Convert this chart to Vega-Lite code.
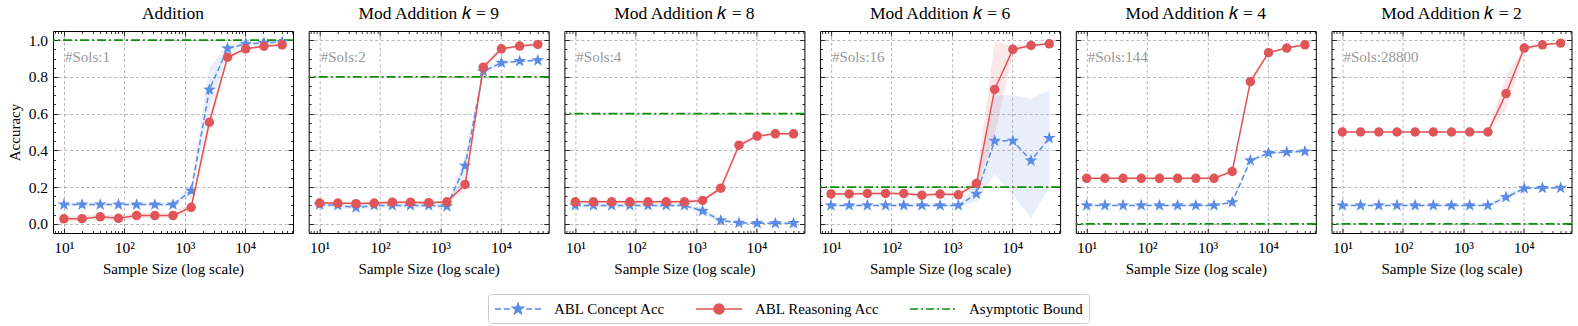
{
"$schema": "https://vega.github.io/schema/vega-lite/v6.json",
"padding": {"left": 6, "top": 4, "right": 5, "bottom": 5},
"spacing": 15.7,
"bounds": "flush",
"datasets": {"d": [
{"p":"a","s":"c","x":10,"y":0.105,"lo":0.095,"hi":0.115},
{"p":"a","s":"c","x":20,"y":0.105,"lo":0.095,"hi":0.115},
{"p":"a","s":"c","x":40,"y":0.105,"lo":0.095,"hi":0.115},
{"p":"a","s":"c","x":80,"y":0.105,"lo":0.095,"hi":0.115},
{"p":"a","s":"c","x":160,"y":0.105,"lo":0.095,"hi":0.115},
{"p":"a","s":"c","x":320,"y":0.105,"lo":0.095,"hi":0.115},
{"p":"a","s":"c","x":640,"y":0.105,"lo":0.095,"hi":0.115},
{"p":"a","s":"c","x":1280,"y":0.18,"lo":0.15,"hi":0.21},
{"p":"a","s":"c","x":2560,"y":0.73,"lo":0.62,"hi":0.85},
{"p":"a","s":"c","x":5120,"y":0.955,"lo":0.93,"hi":0.975},
{"p":"a","s":"c","x":10240,"y":0.98,"lo":0.972,"hi":0.988},
{"p":"a","s":"c","x":20480,"y":0.985,"lo":0.978,"hi":0.992},
{"p":"a","s":"c","x":40960,"y":0.99,"lo":0.984,"hi":0.996},
{"p":"a","s":"r","x":10,"y":0.027,"lo":0.012,"hi":0.042},
{"p":"a","s":"r","x":20,"y":0.028,"lo":0.013,"hi":0.043},
{"p":"a","s":"r","x":40,"y":0.038,"lo":0.023,"hi":0.053},
{"p":"a","s":"r","x":80,"y":0.03,"lo":0.015,"hi":0.045},
{"p":"a","s":"r","x":160,"y":0.045,"lo":0.03,"hi":0.06},
{"p":"a","s":"r","x":320,"y":0.045,"lo":0.03,"hi":0.06},
{"p":"a","s":"r","x":640,"y":0.045,"lo":0.03,"hi":0.06},
{"p":"a","s":"r","x":1280,"y":0.09,"lo":0.07,"hi":0.11},
{"p":"a","s":"r","x":2560,"y":0.553,"lo":0.5,"hi":0.6},
{"p":"a","s":"r","x":5120,"y":0.907,"lo":0.89,"hi":0.925},
{"p":"a","s":"r","x":10240,"y":0.953,"lo":0.945,"hi":0.961},
{"p":"a","s":"r","x":20480,"y":0.967,"lo":0.96,"hi":0.974},
{"p":"a","s":"r","x":40960,"y":0.975,"lo":0.969,"hi":0.981},
{"p":"a","s":"b","y":1.0},
{"p":"a","s":"sols","x":10.4,"y":0.91,"label":"#Sols:1"},

{"p":"k9","s":"c","x":10,"y":0.104,"lo":0.092,"hi":0.116},
{"p":"k9","s":"c","x":20,"y":0.1,"lo":0.088,"hi":0.112},
{"p":"k9","s":"c","x":40,"y":0.088,"lo":0.076,"hi":0.1},
{"p":"k9","s":"c","x":80,"y":0.1,"lo":0.088,"hi":0.112},
{"p":"k9","s":"c","x":160,"y":0.1,"lo":0.088,"hi":0.112},
{"p":"k9","s":"c","x":320,"y":0.1,"lo":0.088,"hi":0.112},
{"p":"k9","s":"c","x":640,"y":0.1,"lo":0.088,"hi":0.112},
{"p":"k9","s":"c","x":1280,"y":0.095,"lo":0.083,"hi":0.107},
{"p":"k9","s":"c","x":2560,"y":0.316,"lo":0.26,"hi":0.37},
{"p":"k9","s":"c","x":5120,"y":0.83,"lo":0.81,"hi":0.85},
{"p":"k9","s":"c","x":10240,"y":0.877,"lo":0.869,"hi":0.885},
{"p":"k9","s":"c","x":20480,"y":0.886,"lo":0.878,"hi":0.894},
{"p":"k9","s":"c","x":40960,"y":0.89,"lo":0.882,"hi":0.898},
{"p":"k9","s":"r","x":10,"y":0.113,"lo":0.105,"hi":0.121},
{"p":"k9","s":"r","x":20,"y":0.113,"lo":0.105,"hi":0.121},
{"p":"k9","s":"r","x":40,"y":0.11,"lo":0.102,"hi":0.118},
{"p":"k9","s":"r","x":80,"y":0.113,"lo":0.105,"hi":0.121},
{"p":"k9","s":"r","x":160,"y":0.118,"lo":0.11,"hi":0.126},
{"p":"k9","s":"r","x":320,"y":0.118,"lo":0.11,"hi":0.126},
{"p":"k9","s":"r","x":640,"y":0.115,"lo":0.107,"hi":0.123},
{"p":"k9","s":"r","x":1280,"y":0.12,"lo":0.112,"hi":0.128},
{"p":"k9","s":"r","x":2560,"y":0.214,"lo":0.18,"hi":0.25},
{"p":"k9","s":"r","x":5120,"y":0.853,"lo":0.83,"hi":0.87},
{"p":"k9","s":"r","x":10240,"y":0.953,"lo":0.945,"hi":0.961},
{"p":"k9","s":"r","x":20480,"y":0.968,"lo":0.961,"hi":0.975},
{"p":"k9","s":"r","x":40960,"y":0.977,"lo":0.971,"hi":0.983},
{"p":"k9","s":"b","y":0.8},
{"p":"k9","s":"sols","x":10.4,"y":0.91,"label":"#Sols:2"},

{"p":"k8","s":"c","x":10,"y":0.1,"lo":0.092,"hi":0.108},
{"p":"k8","s":"c","x":20,"y":0.1,"lo":0.092,"hi":0.108},
{"p":"k8","s":"c","x":40,"y":0.1,"lo":0.092,"hi":0.108},
{"p":"k8","s":"c","x":80,"y":0.1,"lo":0.092,"hi":0.108},
{"p":"k8","s":"c","x":160,"y":0.1,"lo":0.092,"hi":0.108},
{"p":"k8","s":"c","x":320,"y":0.1,"lo":0.092,"hi":0.108},
{"p":"k8","s":"c","x":640,"y":0.1,"lo":0.092,"hi":0.108},
{"p":"k8","s":"c","x":1280,"y":0.07,"lo":0.05,"hi":0.09},
{"p":"k8","s":"c","x":2560,"y":0.018,"lo":0.008,"hi":0.03},
{"p":"k8","s":"c","x":5120,"y":0.005,"lo":0.0,"hi":0.01},
{"p":"k8","s":"c","x":10240,"y":0.003,"lo":0.0,"hi":0.006},
{"p":"k8","s":"c","x":20480,"y":0.003,"lo":0.0,"hi":0.006},
{"p":"k8","s":"c","x":40960,"y":0.003,"lo":0.0,"hi":0.006},
{"p":"k8","s":"r","x":10,"y":0.12,"lo":0.11,"hi":0.13},
{"p":"k8","s":"r","x":20,"y":0.12,"lo":0.11,"hi":0.13},
{"p":"k8","s":"r","x":40,"y":0.12,"lo":0.11,"hi":0.13},
{"p":"k8","s":"r","x":80,"y":0.12,"lo":0.11,"hi":0.13},
{"p":"k8","s":"r","x":160,"y":0.12,"lo":0.11,"hi":0.13},
{"p":"k8","s":"r","x":320,"y":0.12,"lo":0.11,"hi":0.13},
{"p":"k8","s":"r","x":640,"y":0.12,"lo":0.11,"hi":0.13},
{"p":"k8","s":"r","x":1280,"y":0.127,"lo":0.117,"hi":0.137},
{"p":"k8","s":"r","x":2560,"y":0.194,"lo":0.18,"hi":0.21},
{"p":"k8","s":"r","x":5120,"y":0.428,"lo":0.41,"hi":0.445},
{"p":"k8","s":"r","x":10240,"y":0.478,"lo":0.468,"hi":0.488},
{"p":"k8","s":"r","x":20480,"y":0.49,"lo":0.482,"hi":0.498},
{"p":"k8","s":"r","x":40960,"y":0.49,"lo":0.482,"hi":0.498},
{"p":"k8","s":"b","y":0.6},
{"p":"k8","s":"sols","x":10.4,"y":0.91,"label":"#Sols:4"},

{"p":"k6","s":"c","x":10,"y":0.1,"lo":0.092,"hi":0.108},
{"p":"k6","s":"c","x":20,"y":0.1,"lo":0.092,"hi":0.108},
{"p":"k6","s":"c","x":40,"y":0.1,"lo":0.092,"hi":0.108},
{"p":"k6","s":"c","x":80,"y":0.1,"lo":0.092,"hi":0.108},
{"p":"k6","s":"c","x":160,"y":0.1,"lo":0.092,"hi":0.108},
{"p":"k6","s":"c","x":320,"y":0.1,"lo":0.092,"hi":0.108},
{"p":"k6","s":"c","x":640,"y":0.1,"lo":0.092,"hi":0.108},
{"p":"k6","s":"c","x":1280,"y":0.1,"lo":0.092,"hi":0.108},
{"p":"k6","s":"c","x":2560,"y":0.163,"lo":0.12,"hi":0.21},
{"p":"k6","s":"c","x":5120,"y":0.452,"lo":0.27,"hi":0.7},
{"p":"k6","s":"c","x":10240,"y":0.452,"lo":0.16,"hi":0.7},
{"p":"k6","s":"c","x":20480,"y":0.344,"lo":0.03,"hi":0.68},
{"p":"k6","s":"c","x":40960,"y":0.467,"lo":0.2,"hi":0.73},
{"p":"k6","s":"r","x":10,"y":0.163,"lo":0.155,"hi":0.171},
{"p":"k6","s":"r","x":20,"y":0.163,"lo":0.155,"hi":0.171},
{"p":"k6","s":"r","x":40,"y":0.165,"lo":0.157,"hi":0.173},
{"p":"k6","s":"r","x":80,"y":0.165,"lo":0.157,"hi":0.173},
{"p":"k6","s":"r","x":160,"y":0.165,"lo":0.157,"hi":0.173},
{"p":"k6","s":"r","x":320,"y":0.156,"lo":0.148,"hi":0.164},
{"p":"k6","s":"r","x":640,"y":0.162,"lo":0.154,"hi":0.17},
{"p":"k6","s":"r","x":1280,"y":0.158,"lo":0.15,"hi":0.166},
{"p":"k6","s":"r","x":2560,"y":0.22,"lo":0.19,"hi":0.25},
{"p":"k6","s":"r","x":5120,"y":0.732,"lo":0.48,"hi":0.99},
{"p":"k6","s":"r","x":10240,"y":0.95,"lo":0.93,"hi":0.97},
{"p":"k6","s":"r","x":20480,"y":0.971,"lo":0.963,"hi":0.979},
{"p":"k6","s":"r","x":40960,"y":0.98,"lo":0.974,"hi":0.986},
{"p":"k6","s":"b","y":0.2},
{"p":"k6","s":"sols","x":10.4,"y":0.91,"label":"#Sols:16"},

{"p":"k4","s":"c","x":10,"y":0.1,"lo":0.094,"hi":0.106},
{"p":"k4","s":"c","x":20,"y":0.1,"lo":0.094,"hi":0.106},
{"p":"k4","s":"c","x":40,"y":0.1,"lo":0.094,"hi":0.106},
{"p":"k4","s":"c","x":80,"y":0.1,"lo":0.094,"hi":0.106},
{"p":"k4","s":"c","x":160,"y":0.1,"lo":0.094,"hi":0.106},
{"p":"k4","s":"c","x":320,"y":0.1,"lo":0.094,"hi":0.106},
{"p":"k4","s":"c","x":640,"y":0.1,"lo":0.094,"hi":0.106},
{"p":"k4","s":"c","x":1280,"y":0.1,"lo":0.094,"hi":0.106},
{"p":"k4","s":"c","x":2560,"y":0.117,"lo":0.109,"hi":0.125},
{"p":"k4","s":"c","x":5120,"y":0.345,"lo":0.33,"hi":0.36},
{"p":"k4","s":"c","x":10240,"y":0.385,"lo":0.378,"hi":0.392},
{"p":"k4","s":"c","x":20480,"y":0.39,"lo":0.384,"hi":0.396},
{"p":"k4","s":"c","x":40960,"y":0.394,"lo":0.388,"hi":0.4},
{"p":"k4","s":"r","x":10,"y":0.248,"lo":0.242,"hi":0.254},
{"p":"k4","s":"r","x":20,"y":0.248,"lo":0.242,"hi":0.254},
{"p":"k4","s":"r","x":40,"y":0.248,"lo":0.242,"hi":0.254},
{"p":"k4","s":"r","x":80,"y":0.248,"lo":0.242,"hi":0.254},
{"p":"k4","s":"r","x":160,"y":0.248,"lo":0.242,"hi":0.254},
{"p":"k4","s":"r","x":320,"y":0.248,"lo":0.242,"hi":0.254},
{"p":"k4","s":"r","x":640,"y":0.248,"lo":0.242,"hi":0.254},
{"p":"k4","s":"r","x":1280,"y":0.248,"lo":0.242,"hi":0.254},
{"p":"k4","s":"r","x":2560,"y":0.285,"lo":0.275,"hi":0.295},
{"p":"k4","s":"r","x":5120,"y":0.774,"lo":0.75,"hi":0.8},
{"p":"k4","s":"r","x":10240,"y":0.932,"lo":0.924,"hi":0.94},
{"p":"k4","s":"r","x":20480,"y":0.957,"lo":0.951,"hi":0.963},
{"p":"k4","s":"r","x":40960,"y":0.975,"lo":0.97,"hi":0.98},
{"p":"k4","s":"b","y":0.0},
{"p":"k4","s":"sols","x":10.4,"y":0.91,"label":"#Sols:144"},

{"p":"k2","s":"c","x":10,"y":0.1,"lo":0.094,"hi":0.106},
{"p":"k2","s":"c","x":20,"y":0.1,"lo":0.094,"hi":0.106},
{"p":"k2","s":"c","x":40,"y":0.1,"lo":0.094,"hi":0.106},
{"p":"k2","s":"c","x":80,"y":0.1,"lo":0.094,"hi":0.106},
{"p":"k2","s":"c","x":160,"y":0.1,"lo":0.094,"hi":0.106},
{"p":"k2","s":"c","x":320,"y":0.1,"lo":0.094,"hi":0.106},
{"p":"k2","s":"c","x":640,"y":0.1,"lo":0.094,"hi":0.106},
{"p":"k2","s":"c","x":1280,"y":0.1,"lo":0.094,"hi":0.106},
{"p":"k2","s":"c","x":2560,"y":0.1,"lo":0.094,"hi":0.106},
{"p":"k2","s":"c","x":5120,"y":0.145,"lo":0.125,"hi":0.165},
{"p":"k2","s":"c","x":10240,"y":0.193,"lo":0.186,"hi":0.2},
{"p":"k2","s":"c","x":20480,"y":0.195,"lo":0.189,"hi":0.201},
{"p":"k2","s":"c","x":40960,"y":0.196,"lo":0.19,"hi":0.202},
{"p":"k2","s":"r","x":10,"y":0.5,"lo":0.494,"hi":0.506},
{"p":"k2","s":"r","x":20,"y":0.5,"lo":0.494,"hi":0.506},
{"p":"k2","s":"r","x":40,"y":0.5,"lo":0.494,"hi":0.506},
{"p":"k2","s":"r","x":80,"y":0.5,"lo":0.494,"hi":0.506},
{"p":"k2","s":"r","x":160,"y":0.5,"lo":0.494,"hi":0.506},
{"p":"k2","s":"r","x":320,"y":0.5,"lo":0.494,"hi":0.506},
{"p":"k2","s":"r","x":640,"y":0.5,"lo":0.494,"hi":0.506},
{"p":"k2","s":"r","x":1280,"y":0.5,"lo":0.494,"hi":0.506},
{"p":"k2","s":"r","x":2560,"y":0.5,"lo":0.494,"hi":0.506},
{"p":"k2","s":"r","x":5120,"y":0.709,"lo":0.62,"hi":0.8},
{"p":"k2","s":"r","x":10240,"y":0.957,"lo":0.94,"hi":0.97},
{"p":"k2","s":"r","x":20480,"y":0.975,"lo":0.969,"hi":0.981},
{"p":"k2","s":"r","x":40960,"y":0.984,"lo":0.979,"hi":0.989},
{"p":"k2","s":"b","y":0.0},
{"p":"k2","s":"sols","x":10.4,"y":0.91,"label":"#Sols:28800"}
]},
"resolve": {"scale": {"color": "shared"}, "legend": {"color": "shared"}},
"hconcat": [
{
 "title": "Addition", "width": 240, "height": 202,
 "data": {"name": "d"},
 "transform": [{"filter": "datum.p === 'a'"}],
 "resolve": {"axis": {"x": "independent", "y": "independent"}},
 "layer": [
  {"transform": [{"filter": "datum.s === 'c'"}], "mark": {"type": "area", "color": "#5a8be5", "opacity": 0.14},
   "encoding": {"x": {"field": "x", "type": "quantitative", "scale": {"type": "log", "domain": [6.6, 62000], "nice": false}, "axis": {"orient": "top", "values": [10, 100, 1000, 10000], "labels": false, "grid": false, "title": null, "tickSize": -5}},
    "y": {"field": "lo", "type": "quantitative", "scale": {"domain": [-0.05, 1.05], "nice": false, "zero": false}, "axis": {"orient": "right", "values": [0, 0.2, 0.4, 0.6, 0.8, 1], "labels": false, "grid": false, "title": null, "tickSize": -5}},
    "y2": {"field": "hi"}}},
  {"transform": [{"filter": "datum.s === 'r'"}], "mark": {"type": "area", "color": "#e05558", "opacity": 0.14},
   "encoding": {"x": {"field": "x", "type": "quantitative", "scale": {"type": "log", "domain": [6.6, 62000], "nice": false}, "axis": {"orient": "bottom", "values": [7,8,9,20,30,40,50,60,70,80,90,200,300,400,500,600,700,800,900,2000,3000,4000,5000,6000,7000,8000,9000,20000,30000,40000,50000,60000], "labels": false, "grid": false, "title": null, "tickSize": -2.5}},
    "y": {"field": "lo", "type": "quantitative", "scale": {"domain": [-0.05, 1.05], "nice": false, "zero": false}, "axis": {"orient": "left", "values": [0.05,0.1,0.15,0.25,0.3,0.35,0.45,0.5,0.55,0.65,0.7,0.75,0.85,0.9,0.95], "labels": false, "grid": false, "title": null, "tickSize": -2.5}},
    "y2": {"field": "hi"}}},
  {"transform": [{"filter": "datum.s === 'b'"}], "mark": {"type": "rule", "strokeDash": [9, 3, 2, 3], "strokeWidth": 1.8},
   "encoding": {"y": {"field": "y", "type": "quantitative", "scale": {"domain": [-0.05, 1.05], "nice": false, "zero": false}, "axis": {"orient": "right", "values": [0.05,0.1,0.15,0.25,0.3,0.35,0.45,0.5,0.55,0.65,0.7,0.75,0.85,0.9,0.95], "labels": false, "grid": false, "title": null, "tickSize": -2.5}},
    "color": {"field": "s", "type": "nominal", "scale": {"domain": ["c", "r", "b"], "range": ["#5a8be5", "#e05558", "#0c900c"]},
     "legend": {"title": null, "orient": "none", "legendX": 435, "legendY": 263, "direction": "horizontal", "columns": 3,
      "symbolSize": 256, "labelOffset": 42, "columnPadding": 27, "padding": 6,
      "symbolStrokeWidth": 1.5, "symbolDash": [1, 0], "symbolOpacity": 1,
      "strokeColor": "#cccccc", "cornerRadius": 3, "fillColor": "white",
      "labelFont": "Liberation Serif, Times New Roman, serif", "labelFontSize": 15, "labelColor": "black", "labelLimit": 300,
      "labelExpr": "datum.value === 'c' ? 'ABL Concept Acc' : datum.value === 'r' ? 'ABL Reasoning Acc' : 'Asymptotic Bound'",
      "encode": {"symbols": {"update": {
        "shape": {"signal": "datum.value === 'c' ? 'M-1,0L-0.25,0M0.125,0L0.875,0M2.875,0L3.625,0M4,0L4.75,0M1.875,-0.69L2.037,-0.223L2.531,-0.213L2.137,0.085L2.281,0.558L1.875,0.276L1.469,0.558L1.613,0.085L1.219,-0.213L1.713,-0.223Z' : datum.value === 'r' ? 'M-1,0L4.75,0M2.5,0L2.452,0.239L2.317,0.442L2.114,0.577L1.875,0.625L1.636,0.577L1.433,0.442L1.298,0.239L1.25,0L1.298,-0.239L1.433,-0.442L1.636,-0.577L1.875,-0.625L2.114,-0.577L2.317,-0.442L2.452,-0.239Z' : 'M-1,0L0,0M0.375,0L0.625,0M1,0L2,0M2.375,0L2.625,0M3,0L4,0M4.375,0L4.625,0'"},
        "fill": {"signal": "datum.value === 'c' ? '#5a8be5' : datum.value === 'r' ? '#e05558' : '#0c900c'"},
        "stroke": {"signal": "datum.value === 'c' ? '#5a8be5' : datum.value === 'r' ? '#e05558' : '#0c900c'"}
      }}}}}}},
  {"transform": [{"filter": "datum.s === 'c'"}], "mark": {"type": "line", "strokeDash": [5.5, 3], "strokeWidth": 1.5},
   "encoding": {"x": {"field": "x", "type": "quantitative", "scale": {"type": "log", "domain": [6.6, 62000], "nice": false}, "axis": {"orient": "bottom", "values": [10, 100, 1000, 10000], "labelExpr": "datum.value === 10 ? '10¹' : datum.value === 100 ? '10²' : datum.value === 1000 ? '10³' : '10⁴'", "grid": true, "title": "Sample Size (log scale)", "tickSize": -5, "labelPadding": 12, "labelFlush": false}},
    "y": {"field": "y", "type": "quantitative", "scale": {"domain": [-0.05, 1.05], "nice": false, "zero": false}, "axis": {"orient": "left", "values": [0, 0.2, 0.4, 0.6, 0.8, 1], "format": ".1f", "grid": true, "title": "Accuracy", "tickSize": -5, "labelPadding": 10.5}},
    "color": {"field": "s", "type": "nominal"}}},
  {"transform": [{"filter": "datum.s === 'c'"}], "mark": {"type": "point", "shape": "M0,-1L0.235,-0.324L0.951,-0.309L0.38,0.124L0.588,0.809L0,0.4L-0.588,0.809L-0.38,0.124L-0.951,-0.309L-0.235,-0.324Z", "filled": true, "size": 175, "color": "#5a8be5", "opacity": 1},
   "encoding": {"x": {"field": "x", "type": "quantitative", "axis": null}, "y": {"field": "y", "type": "quantitative", "axis": null}}},
  {"transform": [{"filter": "datum.s === 'r'"}], "mark": {"type": "line", "strokeWidth": 1.5},
   "encoding": {"x": {"field": "x", "type": "quantitative", "axis": null}, "y": {"field": "y", "type": "quantitative", "axis": null}, "color": {"field": "s", "type": "nominal"}}},
  {"transform": [{"filter": "datum.s === 'r'"}], "mark": {"type": "point", "shape": "circle", "filled": true, "size": 90, "color": "#e05558", "opacity": 1},
   "encoding": {"x": {"field": "x", "type": "quantitative", "axis": null}, "y": {"field": "y", "type": "quantitative", "axis": null}}},
  {"transform": [{"filter": "datum.s === 'sols'"}], "mark": {"type": "text", "align": "left", "baseline": "middle", "font": "Liberation Serif, Times New Roman, serif", "fontSize": 15, "color": "#999999"},
   "encoding": {"x": {"field": "x", "type": "quantitative", "axis": {"orient": "top", "values": [7,8,9,20,30,40,50,60,70,80,90,200,300,400,500,600,700,800,900,2000,3000,4000,5000,6000,7000,8000,9000,20000,30000,40000,50000,60000], "labels": false, "grid": false, "title": null, "tickSize": -2.5}}, "y": {"field": "y", "type": "quantitative", "axis": null}, "text": {"field": "label"}}}
 ]
},
{
 "title": "Mod Addition 𝑘 = 9", "width": 240, "height": 202,
 "data": {"name": "d"},
 "transform": [{"filter": "datum.p === 'k9'"}],
 "resolve": {"axis": {"x": "independent", "y": "independent"}},
 "layer": [
  {"transform": [{"filter": "datum.s === 'c'"}], "mark": {"type": "area", "color": "#5a8be5", "opacity": 0.14},
   "encoding": {"x": {"field": "x", "type": "quantitative", "scale": {"type": "log", "domain": [6.6, 62000], "nice": false}, "axis": {"orient": "top", "values": [10, 100, 1000, 10000], "labels": false, "grid": false, "title": null, "tickSize": -5}},
    "y": {"field": "lo", "type": "quantitative", "scale": {"domain": [-0.05, 1.05], "nice": false, "zero": false}, "axis": {"orient": "right", "values": [0, 0.2, 0.4, 0.6, 0.8, 1], "labels": false, "grid": false, "title": null, "tickSize": -5}},
    "y2": {"field": "hi"}}},
  {"transform": [{"filter": "datum.s === 'r'"}], "mark": {"type": "area", "color": "#e05558", "opacity": 0.14},
   "encoding": {"x": {"field": "x", "type": "quantitative", "scale": {"type": "log", "domain": [6.6, 62000], "nice": false}, "axis": {"orient": "bottom", "values": [7,8,9,20,30,40,50,60,70,80,90,200,300,400,500,600,700,800,900,2000,3000,4000,5000,6000,7000,8000,9000,20000,30000,40000,50000,60000], "labels": false, "grid": false, "title": null, "tickSize": -2.5}},
    "y": {"field": "lo", "type": "quantitative", "scale": {"domain": [-0.05, 1.05], "nice": false, "zero": false}, "axis": {"orient": "left", "values": [0.05,0.1,0.15,0.25,0.3,0.35,0.45,0.5,0.55,0.65,0.7,0.75,0.85,0.9,0.95], "labels": false, "grid": false, "title": null, "tickSize": -2.5}},
    "y2": {"field": "hi"}}},
  {"transform": [{"filter": "datum.s === 'b'"}], "mark": {"type": "rule", "strokeDash": [9, 3, 2, 3], "strokeWidth": 1.8},
   "encoding": {"y": {"field": "y", "type": "quantitative", "scale": {"domain": [-0.05, 1.05], "nice": false, "zero": false}, "axis": {"orient": "right", "values": [0.05,0.1,0.15,0.25,0.3,0.35,0.45,0.5,0.55,0.65,0.7,0.75,0.85,0.9,0.95], "labels": false, "grid": false, "title": null, "tickSize": -2.5}},
    "color": {"field": "s", "type": "nominal"}}},
  {"transform": [{"filter": "datum.s === 'c'"}], "mark": {"type": "line", "strokeDash": [5.5, 3], "strokeWidth": 1.5},
   "encoding": {"x": {"field": "x", "type": "quantitative", "scale": {"type": "log", "domain": [6.6, 62000], "nice": false}, "axis": {"orient": "bottom", "values": [10, 100, 1000, 10000], "labelExpr": "datum.value === 10 ? '10¹' : datum.value === 100 ? '10²' : datum.value === 1000 ? '10³' : '10⁴'", "grid": true, "title": "Sample Size (log scale)", "tickSize": -5, "labelPadding": 12, "labelFlush": false}},
    "y": {"field": "y", "type": "quantitative", "scale": {"domain": [-0.05, 1.05], "nice": false, "zero": false}, "axis": {"orient": "left", "values": [0, 0.2, 0.4, 0.6, 0.8, 1], "labels": false, "grid": true, "title": null, "tickSize": -5}},
    "color": {"field": "s", "type": "nominal"}}},
  {"transform": [{"filter": "datum.s === 'c'"}], "mark": {"type": "point", "shape": "M0,-1L0.235,-0.324L0.951,-0.309L0.38,0.124L0.588,0.809L0,0.4L-0.588,0.809L-0.38,0.124L-0.951,-0.309L-0.235,-0.324Z", "filled": true, "size": 175, "color": "#5a8be5", "opacity": 1},
   "encoding": {"x": {"field": "x", "type": "quantitative", "axis": null}, "y": {"field": "y", "type": "quantitative", "axis": null}}},
  {"transform": [{"filter": "datum.s === 'r'"}], "mark": {"type": "line", "strokeWidth": 1.5},
   "encoding": {"x": {"field": "x", "type": "quantitative", "axis": null}, "y": {"field": "y", "type": "quantitative", "axis": null}, "color": {"field": "s", "type": "nominal"}}},
  {"transform": [{"filter": "datum.s === 'r'"}], "mark": {"type": "point", "shape": "circle", "filled": true, "size": 90, "color": "#e05558", "opacity": 1},
   "encoding": {"x": {"field": "x", "type": "quantitative", "axis": null}, "y": {"field": "y", "type": "quantitative", "axis": null}}},
  {"transform": [{"filter": "datum.s === 'sols'"}], "mark": {"type": "text", "align": "left", "baseline": "middle", "font": "Liberation Serif, Times New Roman, serif", "fontSize": 15, "color": "#999999"},
   "encoding": {"x": {"field": "x", "type": "quantitative", "axis": {"orient": "top", "values": [7,8,9,20,30,40,50,60,70,80,90,200,300,400,500,600,700,800,900,2000,3000,4000,5000,6000,7000,8000,9000,20000,30000,40000,50000,60000], "labels": false, "grid": false, "title": null, "tickSize": -2.5}}, "y": {"field": "y", "type": "quantitative", "axis": null}, "text": {"field": "label"}}}
 ]
},
{
 "title": "Mod Addition 𝑘 = 8", "width": 240, "height": 202,
 "data": {"name": "d"},
 "transform": [{"filter": "datum.p === 'k8'"}],
 "resolve": {"axis": {"x": "independent", "y": "independent"}},
 "layer": [
  {"transform": [{"filter": "datum.s === 'c'"}], "mark": {"type": "area", "color": "#5a8be5", "opacity": 0.14},
   "encoding": {"x": {"field": "x", "type": "quantitative", "scale": {"type": "log", "domain": [6.6, 62000], "nice": false}, "axis": {"orient": "top", "values": [10, 100, 1000, 10000], "labels": false, "grid": false, "title": null, "tickSize": -5}},
    "y": {"field": "lo", "type": "quantitative", "scale": {"domain": [-0.05, 1.05], "nice": false, "zero": false}, "axis": {"orient": "right", "values": [0, 0.2, 0.4, 0.6, 0.8, 1], "labels": false, "grid": false, "title": null, "tickSize": -5}},
    "y2": {"field": "hi"}}},
  {"transform": [{"filter": "datum.s === 'r'"}], "mark": {"type": "area", "color": "#e05558", "opacity": 0.14},
   "encoding": {"x": {"field": "x", "type": "quantitative", "scale": {"type": "log", "domain": [6.6, 62000], "nice": false}, "axis": {"orient": "bottom", "values": [7,8,9,20,30,40,50,60,70,80,90,200,300,400,500,600,700,800,900,2000,3000,4000,5000,6000,7000,8000,9000,20000,30000,40000,50000,60000], "labels": false, "grid": false, "title": null, "tickSize": -2.5}},
    "y": {"field": "lo", "type": "quantitative", "scale": {"domain": [-0.05, 1.05], "nice": false, "zero": false}, "axis": {"orient": "left", "values": [0.05,0.1,0.15,0.25,0.3,0.35,0.45,0.5,0.55,0.65,0.7,0.75,0.85,0.9,0.95], "labels": false, "grid": false, "title": null, "tickSize": -2.5}},
    "y2": {"field": "hi"}}},
  {"transform": [{"filter": "datum.s === 'b'"}], "mark": {"type": "rule", "strokeDash": [9, 3, 2, 3], "strokeWidth": 1.8},
   "encoding": {"y": {"field": "y", "type": "quantitative", "scale": {"domain": [-0.05, 1.05], "nice": false, "zero": false}, "axis": {"orient": "right", "values": [0.05,0.1,0.15,0.25,0.3,0.35,0.45,0.5,0.55,0.65,0.7,0.75,0.85,0.9,0.95], "labels": false, "grid": false, "title": null, "tickSize": -2.5}},
    "color": {"field": "s", "type": "nominal"}}},
  {"transform": [{"filter": "datum.s === 'c'"}], "mark": {"type": "line", "strokeDash": [5.5, 3], "strokeWidth": 1.5},
   "encoding": {"x": {"field": "x", "type": "quantitative", "scale": {"type": "log", "domain": [6.6, 62000], "nice": false}, "axis": {"orient": "bottom", "values": [10, 100, 1000, 10000], "labelExpr": "datum.value === 10 ? '10¹' : datum.value === 100 ? '10²' : datum.value === 1000 ? '10³' : '10⁴'", "grid": true, "title": "Sample Size (log scale)", "tickSize": -5, "labelPadding": 12, "labelFlush": false}},
    "y": {"field": "y", "type": "quantitative", "scale": {"domain": [-0.05, 1.05], "nice": false, "zero": false}, "axis": {"orient": "left", "values": [0, 0.2, 0.4, 0.6, 0.8, 1], "labels": false, "grid": true, "title": null, "tickSize": -5}},
    "color": {"field": "s", "type": "nominal"}}},
  {"transform": [{"filter": "datum.s === 'c'"}], "mark": {"type": "point", "shape": "M0,-1L0.235,-0.324L0.951,-0.309L0.38,0.124L0.588,0.809L0,0.4L-0.588,0.809L-0.38,0.124L-0.951,-0.309L-0.235,-0.324Z", "filled": true, "size": 175, "color": "#5a8be5", "opacity": 1},
   "encoding": {"x": {"field": "x", "type": "quantitative", "axis": null}, "y": {"field": "y", "type": "quantitative", "axis": null}}},
  {"transform": [{"filter": "datum.s === 'r'"}], "mark": {"type": "line", "strokeWidth": 1.5},
   "encoding": {"x": {"field": "x", "type": "quantitative", "axis": null}, "y": {"field": "y", "type": "quantitative", "axis": null}, "color": {"field": "s", "type": "nominal"}}},
  {"transform": [{"filter": "datum.s === 'r'"}], "mark": {"type": "point", "shape": "circle", "filled": true, "size": 90, "color": "#e05558", "opacity": 1},
   "encoding": {"x": {"field": "x", "type": "quantitative", "axis": null}, "y": {"field": "y", "type": "quantitative", "axis": null}}},
  {"transform": [{"filter": "datum.s === 'sols'"}], "mark": {"type": "text", "align": "left", "baseline": "middle", "font": "Liberation Serif, Times New Roman, serif", "fontSize": 15, "color": "#999999"},
   "encoding": {"x": {"field": "x", "type": "quantitative", "axis": {"orient": "top", "values": [7,8,9,20,30,40,50,60,70,80,90,200,300,400,500,600,700,800,900,2000,3000,4000,5000,6000,7000,8000,9000,20000,30000,40000,50000,60000], "labels": false, "grid": false, "title": null, "tickSize": -2.5}}, "y": {"field": "y", "type": "quantitative", "axis": null}, "text": {"field": "label"}}}
 ]
},
{
 "title": "Mod Addition 𝑘 = 6", "width": 240, "height": 202,
 "data": {"name": "d"},
 "transform": [{"filter": "datum.p === 'k6'"}],
 "resolve": {"axis": {"x": "independent", "y": "independent"}},
 "layer": [
  {"transform": [{"filter": "datum.s === 'c'"}], "mark": {"type": "area", "color": "#5a8be5", "opacity": 0.14},
   "encoding": {"x": {"field": "x", "type": "quantitative", "scale": {"type": "log", "domain": [6.6, 62000], "nice": false}, "axis": {"orient": "top", "values": [10, 100, 1000, 10000], "labels": false, "grid": false, "title": null, "tickSize": -5}},
    "y": {"field": "lo", "type": "quantitative", "scale": {"domain": [-0.05, 1.05], "nice": false, "zero": false}, "axis": {"orient": "right", "values": [0, 0.2, 0.4, 0.6, 0.8, 1], "labels": false, "grid": false, "title": null, "tickSize": -5}},
    "y2": {"field": "hi"}}},
  {"transform": [{"filter": "datum.s === 'r'"}], "mark": {"type": "area", "color": "#e05558", "opacity": 0.14},
   "encoding": {"x": {"field": "x", "type": "quantitative", "scale": {"type": "log", "domain": [6.6, 62000], "nice": false}, "axis": {"orient": "bottom", "values": [7,8,9,20,30,40,50,60,70,80,90,200,300,400,500,600,700,800,900,2000,3000,4000,5000,6000,7000,8000,9000,20000,30000,40000,50000,60000], "labels": false, "grid": false, "title": null, "tickSize": -2.5}},
    "y": {"field": "lo", "type": "quantitative", "scale": {"domain": [-0.05, 1.05], "nice": false, "zero": false}, "axis": {"orient": "left", "values": [0.05,0.1,0.15,0.25,0.3,0.35,0.45,0.5,0.55,0.65,0.7,0.75,0.85,0.9,0.95], "labels": false, "grid": false, "title": null, "tickSize": -2.5}},
    "y2": {"field": "hi"}}},
  {"transform": [{"filter": "datum.s === 'b'"}], "mark": {"type": "rule", "strokeDash": [9, 3, 2, 3], "strokeWidth": 1.8},
   "encoding": {"y": {"field": "y", "type": "quantitative", "scale": {"domain": [-0.05, 1.05], "nice": false, "zero": false}, "axis": {"orient": "right", "values": [0.05,0.1,0.15,0.25,0.3,0.35,0.45,0.5,0.55,0.65,0.7,0.75,0.85,0.9,0.95], "labels": false, "grid": false, "title": null, "tickSize": -2.5}},
    "color": {"field": "s", "type": "nominal"}}},
  {"transform": [{"filter": "datum.s === 'c'"}], "mark": {"type": "line", "strokeDash": [5.5, 3], "strokeWidth": 1.5},
   "encoding": {"x": {"field": "x", "type": "quantitative", "scale": {"type": "log", "domain": [6.6, 62000], "nice": false}, "axis": {"orient": "bottom", "values": [10, 100, 1000, 10000], "labelExpr": "datum.value === 10 ? '10¹' : datum.value === 100 ? '10²' : datum.value === 1000 ? '10³' : '10⁴'", "grid": true, "title": "Sample Size (log scale)", "tickSize": -5, "labelPadding": 12, "labelFlush": false}},
    "y": {"field": "y", "type": "quantitative", "scale": {"domain": [-0.05, 1.05], "nice": false, "zero": false}, "axis": {"orient": "left", "values": [0, 0.2, 0.4, 0.6, 0.8, 1], "labels": false, "grid": true, "title": null, "tickSize": -5}},
    "color": {"field": "s", "type": "nominal"}}},
  {"transform": [{"filter": "datum.s === 'c'"}], "mark": {"type": "point", "shape": "M0,-1L0.235,-0.324L0.951,-0.309L0.38,0.124L0.588,0.809L0,0.4L-0.588,0.809L-0.38,0.124L-0.951,-0.309L-0.235,-0.324Z", "filled": true, "size": 175, "color": "#5a8be5", "opacity": 1},
   "encoding": {"x": {"field": "x", "type": "quantitative", "axis": null}, "y": {"field": "y", "type": "quantitative", "axis": null}}},
  {"transform": [{"filter": "datum.s === 'r'"}], "mark": {"type": "line", "strokeWidth": 1.5},
   "encoding": {"x": {"field": "x", "type": "quantitative", "axis": null}, "y": {"field": "y", "type": "quantitative", "axis": null}, "color": {"field": "s", "type": "nominal"}}},
  {"transform": [{"filter": "datum.s === 'r'"}], "mark": {"type": "point", "shape": "circle", "filled": true, "size": 90, "color": "#e05558", "opacity": 1},
   "encoding": {"x": {"field": "x", "type": "quantitative", "axis": null}, "y": {"field": "y", "type": "quantitative", "axis": null}}},
  {"transform": [{"filter": "datum.s === 'sols'"}], "mark": {"type": "text", "align": "left", "baseline": "middle", "font": "Liberation Serif, Times New Roman, serif", "fontSize": 15, "color": "#999999"},
   "encoding": {"x": {"field": "x", "type": "quantitative", "axis": {"orient": "top", "values": [7,8,9,20,30,40,50,60,70,80,90,200,300,400,500,600,700,800,900,2000,3000,4000,5000,6000,7000,8000,9000,20000,30000,40000,50000,60000], "labels": false, "grid": false, "title": null, "tickSize": -2.5}}, "y": {"field": "y", "type": "quantitative", "axis": null}, "text": {"field": "label"}}}
 ]
},
{
 "title": "Mod Addition 𝑘 = 4", "width": 240, "height": 202,
 "data": {"name": "d"},
 "transform": [{"filter": "datum.p === 'k4'"}],
 "resolve": {"axis": {"x": "independent", "y": "independent"}},
 "layer": [
  {"transform": [{"filter": "datum.s === 'c'"}], "mark": {"type": "area", "color": "#5a8be5", "opacity": 0.14},
   "encoding": {"x": {"field": "x", "type": "quantitative", "scale": {"type": "log", "domain": [6.6, 62000], "nice": false}, "axis": {"orient": "top", "values": [10, 100, 1000, 10000], "labels": false, "grid": false, "title": null, "tickSize": -5}},
    "y": {"field": "lo", "type": "quantitative", "scale": {"domain": [-0.05, 1.05], "nice": false, "zero": false}, "axis": {"orient": "right", "values": [0, 0.2, 0.4, 0.6, 0.8, 1], "labels": false, "grid": false, "title": null, "tickSize": -5}},
    "y2": {"field": "hi"}}},
  {"transform": [{"filter": "datum.s === 'r'"}], "mark": {"type": "area", "color": "#e05558", "opacity": 0.14},
   "encoding": {"x": {"field": "x", "type": "quantitative", "scale": {"type": "log", "domain": [6.6, 62000], "nice": false}, "axis": {"orient": "bottom", "values": [7,8,9,20,30,40,50,60,70,80,90,200,300,400,500,600,700,800,900,2000,3000,4000,5000,6000,7000,8000,9000,20000,30000,40000,50000,60000], "labels": false, "grid": false, "title": null, "tickSize": -2.5}},
    "y": {"field": "lo", "type": "quantitative", "scale": {"domain": [-0.05, 1.05], "nice": false, "zero": false}, "axis": {"orient": "left", "values": [0.05,0.1,0.15,0.25,0.3,0.35,0.45,0.5,0.55,0.65,0.7,0.75,0.85,0.9,0.95], "labels": false, "grid": false, "title": null, "tickSize": -2.5}},
    "y2": {"field": "hi"}}},
  {"transform": [{"filter": "datum.s === 'b'"}], "mark": {"type": "rule", "strokeDash": [9, 3, 2, 3], "strokeWidth": 1.8},
   "encoding": {"y": {"field": "y", "type": "quantitative", "scale": {"domain": [-0.05, 1.05], "nice": false, "zero": false}, "axis": {"orient": "right", "values": [0.05,0.1,0.15,0.25,0.3,0.35,0.45,0.5,0.55,0.65,0.7,0.75,0.85,0.9,0.95], "labels": false, "grid": false, "title": null, "tickSize": -2.5}},
    "color": {"field": "s", "type": "nominal"}}},
  {"transform": [{"filter": "datum.s === 'c'"}], "mark": {"type": "line", "strokeDash": [5.5, 3], "strokeWidth": 1.5},
   "encoding": {"x": {"field": "x", "type": "quantitative", "scale": {"type": "log", "domain": [6.6, 62000], "nice": false}, "axis": {"orient": "bottom", "values": [10, 100, 1000, 10000], "labelExpr": "datum.value === 10 ? '10¹' : datum.value === 100 ? '10²' : datum.value === 1000 ? '10³' : '10⁴'", "grid": true, "title": "Sample Size (log scale)", "tickSize": -5, "labelPadding": 12, "labelFlush": false}},
    "y": {"field": "y", "type": "quantitative", "scale": {"domain": [-0.05, 1.05], "nice": false, "zero": false}, "axis": {"orient": "left", "values": [0, 0.2, 0.4, 0.6, 0.8, 1], "labels": false, "grid": true, "title": null, "tickSize": -5}},
    "color": {"field": "s", "type": "nominal"}}},
  {"transform": [{"filter": "datum.s === 'c'"}], "mark": {"type": "point", "shape": "M0,-1L0.235,-0.324L0.951,-0.309L0.38,0.124L0.588,0.809L0,0.4L-0.588,0.809L-0.38,0.124L-0.951,-0.309L-0.235,-0.324Z", "filled": true, "size": 175, "color": "#5a8be5", "opacity": 1},
   "encoding": {"x": {"field": "x", "type": "quantitative", "axis": null}, "y": {"field": "y", "type": "quantitative", "axis": null}}},
  {"transform": [{"filter": "datum.s === 'r'"}], "mark": {"type": "line", "strokeWidth": 1.5},
   "encoding": {"x": {"field": "x", "type": "quantitative", "axis": null}, "y": {"field": "y", "type": "quantitative", "axis": null}, "color": {"field": "s", "type": "nominal"}}},
  {"transform": [{"filter": "datum.s === 'r'"}], "mark": {"type": "point", "shape": "circle", "filled": true, "size": 90, "color": "#e05558", "opacity": 1},
   "encoding": {"x": {"field": "x", "type": "quantitative", "axis": null}, "y": {"field": "y", "type": "quantitative", "axis": null}}},
  {"transform": [{"filter": "datum.s === 'sols'"}], "mark": {"type": "text", "align": "left", "baseline": "middle", "font": "Liberation Serif, Times New Roman, serif", "fontSize": 15, "color": "#999999"},
   "encoding": {"x": {"field": "x", "type": "quantitative", "axis": {"orient": "top", "values": [7,8,9,20,30,40,50,60,70,80,90,200,300,400,500,600,700,800,900,2000,3000,4000,5000,6000,7000,8000,9000,20000,30000,40000,50000,60000], "labels": false, "grid": false, "title": null, "tickSize": -2.5}}, "y": {"field": "y", "type": "quantitative", "axis": null}, "text": {"field": "label"}}}
 ]
},
{
 "title": "Mod Addition 𝑘 = 2", "width": 240, "height": 202,
 "data": {"name": "d"},
 "transform": [{"filter": "datum.p === 'k2'"}],
 "resolve": {"axis": {"x": "independent", "y": "independent"}},
 "layer": [
  {"transform": [{"filter": "datum.s === 'c'"}], "mark": {"type": "area", "color": "#5a8be5", "opacity": 0.14},
   "encoding": {"x": {"field": "x", "type": "quantitative", "scale": {"type": "log", "domain": [6.6, 62000], "nice": false}, "axis": {"orient": "top", "values": [10, 100, 1000, 10000], "labels": false, "grid": false, "title": null, "tickSize": -5}},
    "y": {"field": "lo", "type": "quantitative", "scale": {"domain": [-0.05, 1.05], "nice": false, "zero": false}, "axis": {"orient": "right", "values": [0, 0.2, 0.4, 0.6, 0.8, 1], "labels": false, "grid": false, "title": null, "tickSize": -5}},
    "y2": {"field": "hi"}}},
  {"transform": [{"filter": "datum.s === 'r'"}], "mark": {"type": "area", "color": "#e05558", "opacity": 0.14},
   "encoding": {"x": {"field": "x", "type": "quantitative", "scale": {"type": "log", "domain": [6.6, 62000], "nice": false}, "axis": {"orient": "bottom", "values": [7,8,9,20,30,40,50,60,70,80,90,200,300,400,500,600,700,800,900,2000,3000,4000,5000,6000,7000,8000,9000,20000,30000,40000,50000,60000], "labels": false, "grid": false, "title": null, "tickSize": -2.5}},
    "y": {"field": "lo", "type": "quantitative", "scale": {"domain": [-0.05, 1.05], "nice": false, "zero": false}, "axis": {"orient": "left", "values": [0.05,0.1,0.15,0.25,0.3,0.35,0.45,0.5,0.55,0.65,0.7,0.75,0.85,0.9,0.95], "labels": false, "grid": false, "title": null, "tickSize": -2.5}},
    "y2": {"field": "hi"}}},
  {"transform": [{"filter": "datum.s === 'b'"}], "mark": {"type": "rule", "strokeDash": [9, 3, 2, 3], "strokeWidth": 1.8},
   "encoding": {"y": {"field": "y", "type": "quantitative", "scale": {"domain": [-0.05, 1.05], "nice": false, "zero": false}, "axis": {"orient": "right", "values": [0.05,0.1,0.15,0.25,0.3,0.35,0.45,0.5,0.55,0.65,0.7,0.75,0.85,0.9,0.95], "labels": false, "grid": false, "title": null, "tickSize": -2.5}},
    "color": {"field": "s", "type": "nominal"}}},
  {"transform": [{"filter": "datum.s === 'c'"}], "mark": {"type": "line", "strokeDash": [5.5, 3], "strokeWidth": 1.5},
   "encoding": {"x": {"field": "x", "type": "quantitative", "scale": {"type": "log", "domain": [6.6, 62000], "nice": false}, "axis": {"orient": "bottom", "values": [10, 100, 1000, 10000], "labelExpr": "datum.value === 10 ? '10¹' : datum.value === 100 ? '10²' : datum.value === 1000 ? '10³' : '10⁴'", "grid": true, "title": "Sample Size (log scale)", "tickSize": -5, "labelPadding": 12, "labelFlush": false}},
    "y": {"field": "y", "type": "quantitative", "scale": {"domain": [-0.05, 1.05], "nice": false, "zero": false}, "axis": {"orient": "left", "values": [0, 0.2, 0.4, 0.6, 0.8, 1], "labels": false, "grid": true, "title": null, "tickSize": -5}},
    "color": {"field": "s", "type": "nominal"}}},
  {"transform": [{"filter": "datum.s === 'c'"}], "mark": {"type": "point", "shape": "M0,-1L0.235,-0.324L0.951,-0.309L0.38,0.124L0.588,0.809L0,0.4L-0.588,0.809L-0.38,0.124L-0.951,-0.309L-0.235,-0.324Z", "filled": true, "size": 175, "color": "#5a8be5", "opacity": 1},
   "encoding": {"x": {"field": "x", "type": "quantitative", "axis": null}, "y": {"field": "y", "type": "quantitative", "axis": null}}},
  {"transform": [{"filter": "datum.s === 'r'"}], "mark": {"type": "line", "strokeWidth": 1.5},
   "encoding": {"x": {"field": "x", "type": "quantitative", "axis": null}, "y": {"field": "y", "type": "quantitative", "axis": null}, "color": {"field": "s", "type": "nominal"}}},
  {"transform": [{"filter": "datum.s === 'r'"}], "mark": {"type": "point", "shape": "circle", "filled": true, "size": 90, "color": "#e05558", "opacity": 1},
   "encoding": {"x": {"field": "x", "type": "quantitative", "axis": null}, "y": {"field": "y", "type": "quantitative", "axis": null}}},
  {"transform": [{"filter": "datum.s === 'sols'"}], "mark": {"type": "text", "align": "left", "baseline": "middle", "font": "Liberation Serif, Times New Roman, serif", "fontSize": 15, "color": "#999999"},
   "encoding": {"x": {"field": "x", "type": "quantitative", "axis": {"orient": "top", "values": [7,8,9,20,30,40,50,60,70,80,90,200,300,400,500,600,700,800,900,2000,3000,4000,5000,6000,7000,8000,9000,20000,30000,40000,50000,60000], "labels": false, "grid": false, "title": null, "tickSize": -2.5}}, "y": {"field": "y", "type": "quantitative", "axis": null}, "text": {"field": "label"}}}
 ]
}
],
"config": {
 "font": "Liberation Serif, Times New Roman, serif",
 "view": {"stroke": "black", "strokeWidth": 1},
 "title": {"font": "Liberation Serif, Times New Roman, serif", "fontSize": 17.5, "fontWeight": "normal", "color": "black", "offset": 8},
 "axis": {"domain": false, "tickColor": "black", "tickWidth": 0.8, "labelFont": "Liberation Serif, Times New Roman, serif", "labelFontSize": 15.5, "labelColor": "black", "titleFont": "Liberation Serif, Times New Roman, serif", "titleFontSize": 15, "titleFontWeight": "normal", "titleColor": "black", "titlePadding": 6, "gridColor": "#999999", "gridDash": [3, 2.5], "gridWidth": 0.7, "gridOpacity": 1, "labelOverlap": false},
 "legend": {"labelFont": "Liberation Serif, Times New Roman, serif"}
}
}
